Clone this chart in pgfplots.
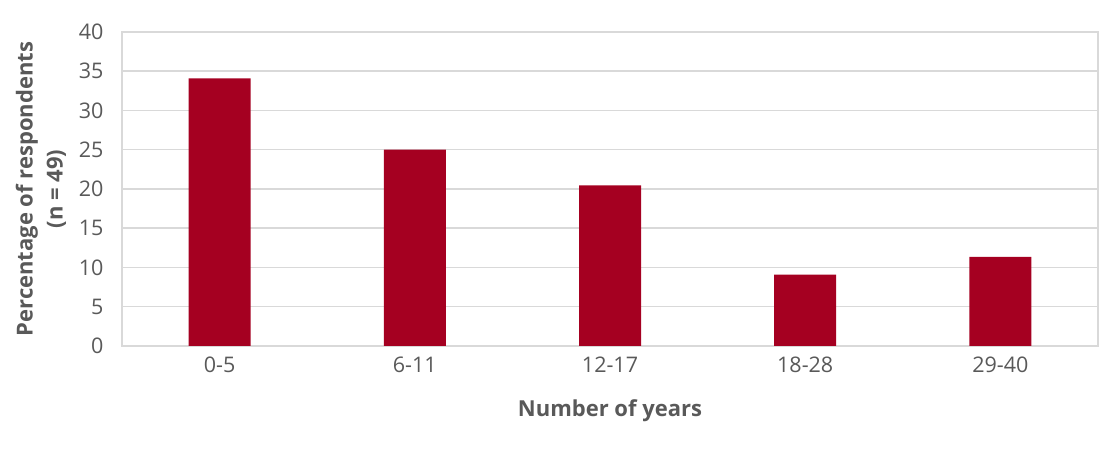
\documentclass[border=0pt]{standalone}
\usepackage{pgfplots}
\pgfplotsset{compat=1.18}
\usepackage{fontspec}
\setmainfont{Open Sans}
\definecolor{barred}{HTML}{A50021}
\definecolor{gridgray}{HTML}{D9D9D9}
\definecolor{txtgray}{HTML}{595959}
\begin{document}
\begin{tikzpicture}[x=1pt,y=1pt]
\useasboundingbox (0,0) rectangle (1120,462);
\begin{axis}[
  at={(122pt,116pt)}, anchor=south west,
  scale only axis, width=976pt, height=314pt,
  xmin=-0.5, xmax=4.5, ymin=0, ymax=40,
  ytick={0,5,...,40},
  xtick=data,
  xticklabels={0-5,6-11,12-17,18-28,29-40},
  ymajorgrids, grid style={gridgray, line width=1.5pt},
  axis line style={gridgray, line width=1.5pt},
  major tick length=0pt,
  tick label style={font=\fontsize{21.5}{25}\selectfont, text=txtgray},
  /pgf/number format/assume math mode=true,
  yticklabel style={xshift=-15pt},
  xticklabel style={yshift=-7pt},
  xlabel={Number of years},
  ylabel={Percentage of respondents\\(n = 49)},
  xlabel style={font=\bfseries\fontsize{22}{26}\selectfont, text=txtgray, yshift=-20pt},
  ylabel style={font=\bfseries\fontsize{22}{30}\selectfont, text=txtgray, align=center, yshift=6pt},
  ybar, bar width=62pt,
]
\addplot[fill=barred, draw=none] coordinates {(0,34.09) (1,25) (2,20.45) (3,9.09) (4,11.36)};
\end{axis}
\end{tikzpicture}
\end{document}
